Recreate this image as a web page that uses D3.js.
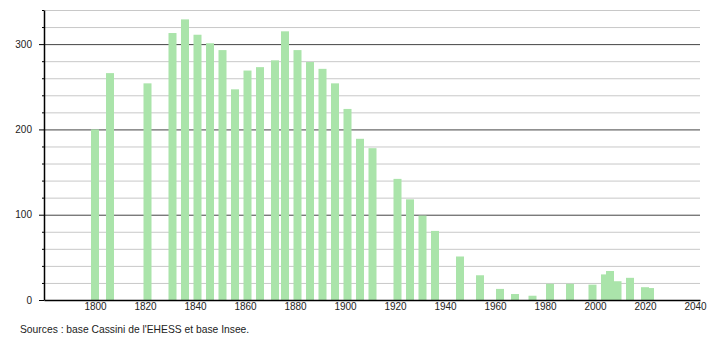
<!DOCTYPE html>
<html>
<head>
<meta charset="utf-8">
<script src="https://cdn.jsdelivr.net/npm/d3@7"></script>
<style>
  body { margin: 0; background: #fff; }
  text { font-family: "Liberation Sans", Arial, sans-serif; }
</style>
</head>
<body>
<div class="chart"></div>
<script>
// recensements (années) et population
const years = [1800, 1806, 1821, 1831, 1836, 1841, 1846, 1851, 1856, 1861, 1866, 1872, 1876,
               1881, 1886, 1891, 1896, 1901, 1906, 1911, 1921, 1926, 1931, 1936, 1946, 1954,
               1962, 1968, 1975, 1982, 1990, 1999, 2004, 2006, 2009, 2014, 2020, 2022]
const population = [200, 266, 254, 313, 329, 311, 301, 293, 247, 269, 273, 281, 315,
                    293, 279, 271, 254, 224, 189, 178, 142, 118, 99, 81, 51, 29,
                    13, 7, 5, 19, 19, 18, 30, 34, 22, 26, 15, 14]
const xTicks = [1800, 1820, 1840, 1860, 1880, 1900, 1920, 1940, 1960, 1980, 2000, 2020, 2040]
const yMajor = [0, 100, 200, 300]
const yMinor = [20, 40, 60, 80, 120, 140, 160, 180, 220, 240, 260, 280, 320, 340]
const source = "Sources : base Cassini de l'EHESS et base Insee."

const width = 710
const height = 340
const barWidth = 8

const svg = d3.select(".chart").append("svg")
    .attr("width", width)
    .attr("height", height)

const xScale = d3.scaleLinear()
    .domain([1779.6, 2042])
    .range([44, 700])

const yScale = d3.scaleLinear()
    .domain([0, 340])
    .range([300, 10])

// grille
svg.append("g")
    .selectAll("line")
    .data(yMinor)
    .join("line")
    .attr("x1", 44)
    .attr("x2", 700)
    .attr("y1", d => yScale(d) + 0.5)
    .attr("y2", d => yScale(d) + 0.5)
    .attr("stroke", "#c8c8c8")

svg.append("g")
    .selectAll("line")
    .data(yMajor.filter(d => d > 0))
    .join("line")
    .attr("x1", 44)
    .attr("x2", 700)
    .attr("y1", d => yScale(d) + 0.5)
    .attr("y2", d => yScale(d) + 0.5)
    .attr("stroke", "#444")

// barres
svg.append("g")
    .selectAll("rect")
    .data(years)
    .join("rect")
    .attr("x", d => xScale(d) - barWidth / 2)
    .attr("width", barWidth)
    .attr("y", (d, i) => yScale(population[i]))
    .attr("height", (d, i) => yScale(0) - yScale(population[i]))
    .attr("fill", "#aae4aa")

// axes
const xAxis = d3.axisBottom(xScale)
    .tickValues(xTicks)
    .tickSize(0)
    .tickSizeOuter(0)
    .tickPadding(3)
    .tickFormat(d3.format("d"))

svg.append("g")
    .attr("transform", `translate(0, ${yScale(0)})`)
    .call(xAxis)
    .call(g => g.select(".domain").attr("stroke", "#000").attr("stroke-width", 1.5))
    .call(g => g.selectAll("text").attr("font-size", "10px").attr("fill", "#222").attr("font-family", null))

const yMinorAxis = d3.axisLeft(yScale)
    .tickValues(yMinor)
    .tickSize(2)
    .tickFormat("")

svg.append("g")
    .attr("transform", "translate(44, 0)")
    .call(yMinorAxis)
    .call(g => g.select(".domain").remove())

const yAxis = d3.axisLeft(yScale)
    .tickValues(yMajor)
    .tickSize(5)
    .tickSizeOuter(0)
    .tickPadding(7)

svg.append("g")
    .attr("transform", "translate(44, 0)")
    .call(yAxis)
    .call(g => g.select(".domain").attr("stroke", "#000").attr("stroke-width", 1.5))
    .call(g => g.selectAll("text").attr("font-size", "10px").attr("fill", "#222").attr("font-family", null))

svg.append("text")
    .attr("x", 20)
    .attr("y", 333)
    .attr("font-size", "10.3px")
    .attr("fill", "#222")
    .text(source)
</script>
</body>
</html>
